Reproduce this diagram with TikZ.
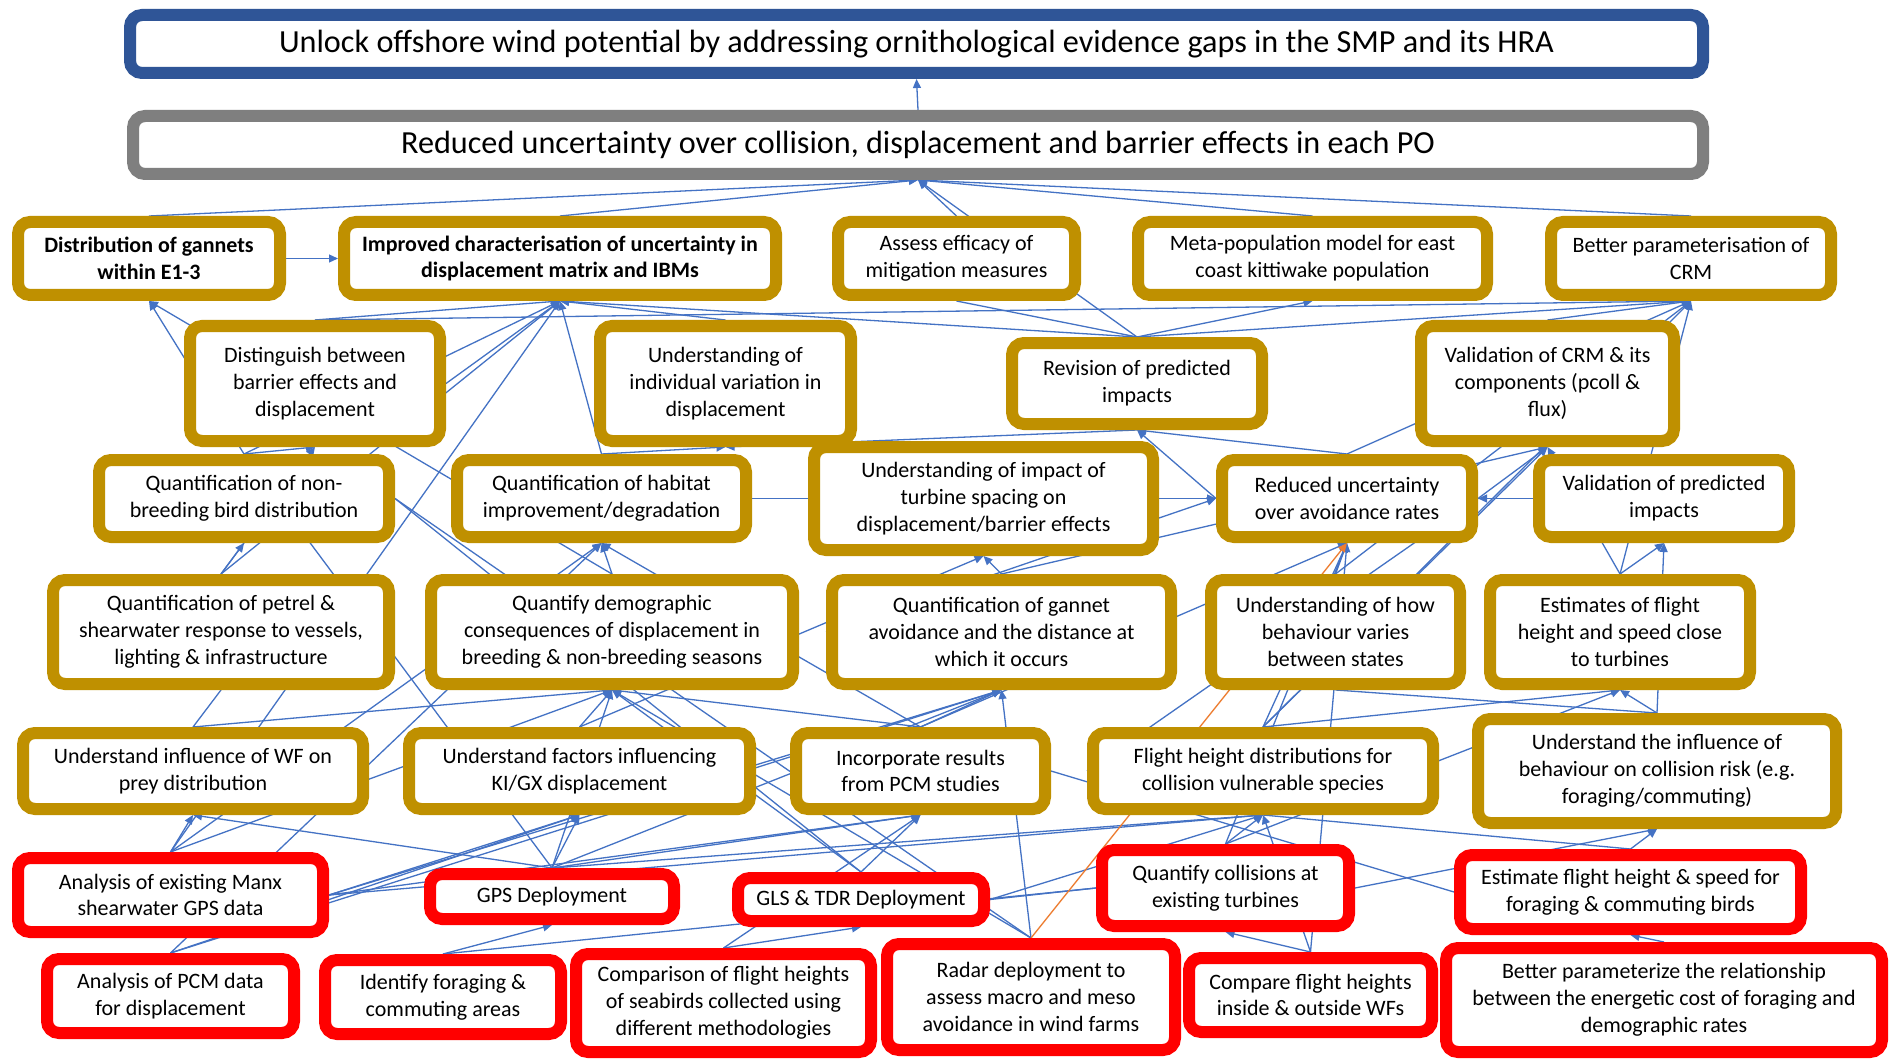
\documentclass[tikz,border=0pt]{standalone}
\usepackage{fontspec}
\setmainfont{Carlito}
\usetikzlibrary{arrows.meta,backgrounds}

\definecolor{goalblue}{HTML}{2F5597}
\definecolor{pogray}{HTML}{7F7F7F}
\definecolor{outgold}{HTML}{BF9000}
\definecolor{actred}{HTML}{FF0000}
\definecolor{lnk}{HTML}{4472C4}
\definecolor{lnkorange}{HTML}{ED7D31}

\newcommand\nfont{\fontsize{22}{26.8}\selectfont}
\newcommand\tfont{\fontsize{32.2}{38}\selectfont}

% box from its outer edges: style, name, x1, x2, y1, y2, text
\newcommand\Bx[7]{%
  \pgfmathsetmacro\bxcx{(#3+#4)/2}%
  \pgfmathsetmacro\bxcy{(#5+#6)/2}%
  \pgfmathsetmacro\bxw{#4-#3-12}%
  \pgfmathsetmacro\bxh{#6-#5-12}%
  \node[#1,minimum width=\bxw pt,minimum height=\bxh pt] (#2) at (\bxcx,\bxcy) {#7};}

\newcommand\ConA[3][]{\draw[arr,#1] (#2) -- (#3);}
\newcommand\ConL[2]{\draw[lnkline] (#1) -- (#2);}

\tikzset{
  box/.style={rectangle,rounded corners=12pt,line width=12pt,fill=white,
    align=center,inner sep=0pt,font=\nfont},
  goalbox/.style={box,draw=goalblue,font=\tfont},
  pobox/.style={box,draw=pogray,font=\tfont},
  outbox/.style={box,draw=outgold},
  actbox/.style={box,draw=actred},
  lnkline/.style={draw=lnk,line width=1.3pt},
  arr/.style={lnkline,-{Triangle[length=9pt,width=8pt]}},
  orangearr/.style={draw=lnkorange,-{Triangle[length=9pt,width=8pt]}},
}

\begin{document}
\begin{tikzpicture}[x=1pt,y=-1pt]
\useasboundingbox (0,0) rectangle (1890,1059);

% goals
\Bx{goalbox}{goal}{124}{1709}{9}{79}{Unlock offshore wind potential by addressing ornithological evidence gaps in the SMP and its HRA}
\Bx{pobox}{po}{127}{1709}{110}{180}{Reduced uncertainty over collision, displacement and barrier effects in each PO}

% outcomes, first row
\Bx{outbox,font=\nfont\bfseries}{dist}{12}{286}{216}{301}{Distribution of gannets\\within E1-3}
\Bx{outbox,font=\nfont\bfseries}{impr}{338}{782}{216}{301}{Improved characterisation of uncertainty in\\displacement matrix and IBMs}
\Bx{outbox}{assess}{832}{1081}{216}{301}{Assess efficacy of\\mitigation measures}
\Bx{outbox}{meta}{1132}{1493}{216}{301}{Meta-population model for east\\coast kittiwake population}
\Bx{outbox}{crm}{1545}{1837}{216}{301}{Better parameterisation of\\CRM}

% second row
\Bx{outbox}{barrier}{184}{446}{320}{447}{Distinguish between\\barrier effects and\\displacement}
\Bx{outbox}{indiv}{594}{857}{320}{447}{Understanding of\\individual variation in\\displacement}
\Bx{outbox}{revision}{1006}{1268}{337}{430}{Revision of predicted\\impacts}
\Bx{outbox}{valcrm}{1415}{1680}{320}{447}{Validation of CRM \& its\\components (pcoll \&\\flux)}

% third row
\Bx{outbox}{nonbreed}{93}{395}{454}{543}{Quantification of non-\\breeding bird distribution}
\Bx{outbox}{habitat}{451}{752}{454}{543}{Quantification of habitat\\improvement/degradation}
\Bx{outbox}{spacing}{808}{1159}{441}{556}{Understanding of impact of\\turbine spacing on\\displacement/barrier effects}
\Bx{outbox}{avoid}{1216}{1478}{454}{543}{Reduced uncertainty\\over avoidance rates}
\Bx{outbox}{valimp}{1533}{1795}{454}{543}{Validation of predicted\\impacts}

% fourth row
\Bx{outbox}{petrel}{47}{395}{574}{690}{Quantification of petrel \&\\shearwater response to vessels,\\lighting \& infrastructure}
\Bx{outbox}{demog}{425}{799}{574}{690}{Quantify demographic\\consequences of displacement in\\breeding \& non-breeding seasons}
\Bx{outbox}{gannetav}{826}{1177}{574}{690}{Quantification of gannet\\avoidance and the distance at\\which it occurs}
\Bx{outbox}{behav}{1205}{1466}{574}{690}{Understanding of how\\behaviour varies\\between states}
\Bx{outbox}{fhclose}{1484}{1756}{574}{690}{Estimates of flight\\height and speed close\\to turbines}

% fifth row
\Bx{outbox}{prey}{17}{369}{727}{815}{Understand influence of WF on\\prey distribution}
\Bx{outbox}{kigx}{403}{756}{727}{815}{Understand factors influencing\\KI/GX displacement}
\Bx{outbox}{pcmres}{790}{1051}{727}{815}{Incorporate results\\from PCM studies}
\Bx{outbox}{fhdist}{1087}{1439}{727}{815}{Flight height distributions for\\collision vulnerable species}
\Bx{outbox}{behcol}{1472}{1842}{713}{829}{Understand the influence of\\behaviour on collision risk (e.g.\\foraging/commuting)}

% activities
\Bx{actbox}{manx}{12}{329}{852}{938}{Analysis of existing Manx\\shearwater GPS data}
\Bx{actbox}{gps}{424}{680}{868}{925}{GPS Deployment}
\Bx{actbox}{gls}{732}{990}{872}{927}{GLS \& TDR Deployment}
\Bx{actbox}{qcoll}{1096}{1355}{844}{932}{Quantify collisions at\\existing turbines}
\Bx{actbox}{estfh}{1454}{1807}{849}{935}{Estimate flight height \& speed for\\foraging \& commuting birds}

\Bx{actbox}{pcmdisp}{41}{300}{953}{1039}{Analysis of PCM data\\for displacement}
\Bx{actbox}{forage}{319}{567}{954}{1040}{Identify foraging \&\\commuting areas}
\Bx{actbox}{compmeth}{570}{877}{948}{1058}{Comparison of flight heights\\of seabirds collected using\\different methodologies}
\Bx{actbox}{radar}{881}{1181}{938}{1056}{Radar deployment to\\assess macro and meso\\avoidance in wind farms}
\Bx{actbox}{compwf}{1183}{1438}{952}{1038}{Compare flight heights\\inside \& outside WFs}
\Bx{actbox}{energy}{1440}{1888}{942}{1058}{Better parameterize the relationship\\between the energetic cost of foraging and\\demographic rates}

\begin{pgfonlayer}{background}
\fill[white] (0,0) rectangle (1890,1059);

% into the goals
\ConA{po.north}{goal.south}
\ConA{dist.north}{po.south}
\ConA{impr.north}{po.south}
\ConA{assess.north}{po.south}
\ConA{meta.north}{po.south}
\ConA{crm.north}{po.south}
\ConA{revision.north}{po.south}

% into the first row
\ConA{dist.east}{impr.west}
\ConA{barrier.north}{impr.south}
\ConA{barrier.east}{impr.south}
\ConA{nonbreed.north}{impr.south}
\ConA{habitat.north}{impr.south}
\ConA{indiv.north}{impr.south}
\ConA{revision.north}{impr.south}
\ConA{manx.north}{impr.south}
\ConA{petrel.north}{impr.south}
\ConA{nonbreed.north}{dist.south}
\ConA{demog.north}{dist.south}
\ConA{barrier.north}{crm.south}
\ConA{revision.north}{crm.south}
\ConA{valcrm.north}{crm.south}
\ConA{avoid.north}{crm.south}
\ConA{behav.north}{crm.south}
\ConA{fhdist.north}{crm.south}
\ConA{fhclose.north}{crm.south}
\ConA{revision.north}{meta.south}
\ConL{assess.south}{revision.north}

% into the second row
\ConA{nonbreed.north}{barrier.south}
\ConA{petrel.north}{barrier.south}
\ConA{habitat.north}{indiv.south}
\ConA{revision.south}{indiv.south}
\ConA{avoid.west}{revision.south}
\ConA{avoid.north}{revision.south}
\ConA{avoid.east}{valcrm.south}
\ConA{gannetav.north}{valcrm.south}
\ConA{fhdist.north}{valcrm.south}
\ConA{fhclose.north}{valcrm.south}

% into the third row
\ConL{habitat.east}{spacing.west}
\ConA{spacing.east}{avoid.west}
\ConA{gannetav.west}{avoid.west}
\ConA{valimp.west}{avoid.east}
\ConA{fhclose.north}{valimp.south}
\ConA{behcol.north}{valimp.south}
\ConA{behav.north}{avoid.south}
\ConA{fhdist.north}{avoid.south}
\ConA{qcoll.north}{avoid.south}
\ConA{compwf.north}{avoid.south}
\ConA{pcmres.north}{avoid.south}
\ConL{avoid.east}{fhdist.west}
\ConA{gannetav.north}{spacing.south}
\ConA{kigx.north}{spacing.south}
\ConA{demog.north}{habitat.south}
\ConA{pcmdisp.north}{habitat.south}
\ConA{manx.north}{habitat.south}
\ConA{pcmres.north}{habitat.south}
\ConA{petrel.north}{nonbreed.south}

% into the fourth row
\ConA{kigx.north}{demog.south}
\ConA{manx.north}{demog.south}
\ConA{gls.north}{demog.south}
\ConA{pcmres.north}{demog.south}
\ConA{gps.north}{demog.south}
\ConA{radar.north}{demog.south}
\ConA{prey.north}{demog.south}
\ConL{prey.north}{petrel.south}
\ConA{pcmres.north}{gannetav.south}
\ConA{manx.east}{gannetav.south}
\ConA{pcmdisp.north}{gannetav.south}
\ConA{radar.north}{gannetav.south}
\ConA{gps.north}{gannetav.south}
\ConA{behcol.north}{fhclose.south}
\ConA{fhdist.north}{fhclose.south}
\ConA{qcoll.north}{fhclose.south}

% into the fifth row
\ConA{gps.north}{kigx.south}
\ConA{manx.east}{kigx.south}
\ConA{pcmdisp.north}{kigx.south}
\ConA{manx.north}{prey.south}
\ConA{gps.north}{prey.south}
\ConA{gls.north}{pcmres.south}
\ConA{gps.north}{pcmres.south}
\ConA{compmeth.north}{pcmres.south}
\ConA{manx.east}{pcmres.south}
\ConA{qcoll.north}{fhdist.south}
\ConA{compwf.north}{fhdist.south}
\ConA{manx.east}{fhdist.south}
\ConA{gls.east}{fhdist.south}
\ConA{gps.north}{fhdist.south}
\ConA{qcoll.east}{behcol.south}
\ConA{estfh.north}{behcol.south}
\ConL{behav.south}{behcol.north}
\ConL{fhdist.south}{estfh.north}
\ConL{pcmres.east}{estfh.west}

% among the activities
\ConA{energy.north}{estfh.south}
\ConA{forage.north}{gps.south}
\ConL{forage.north}{qcoll.west}
\ConA{compmeth.north}{gls.south}
\ConL{gls.east}{qcoll.west}
\ConA{compwf.north}{qcoll.south}
\ConL{radar.north}{nonbreed.east}
\ConL{gls.north}{nonbreed.east}
\ConL{gps.north}{nonbreed.north}

% radar towards avoidance rates
\draw[orangearr,line width=1.3pt] (radar.north) -- (avoid.south);
\end{pgfonlayer}
\end{tikzpicture}
\end{document}
